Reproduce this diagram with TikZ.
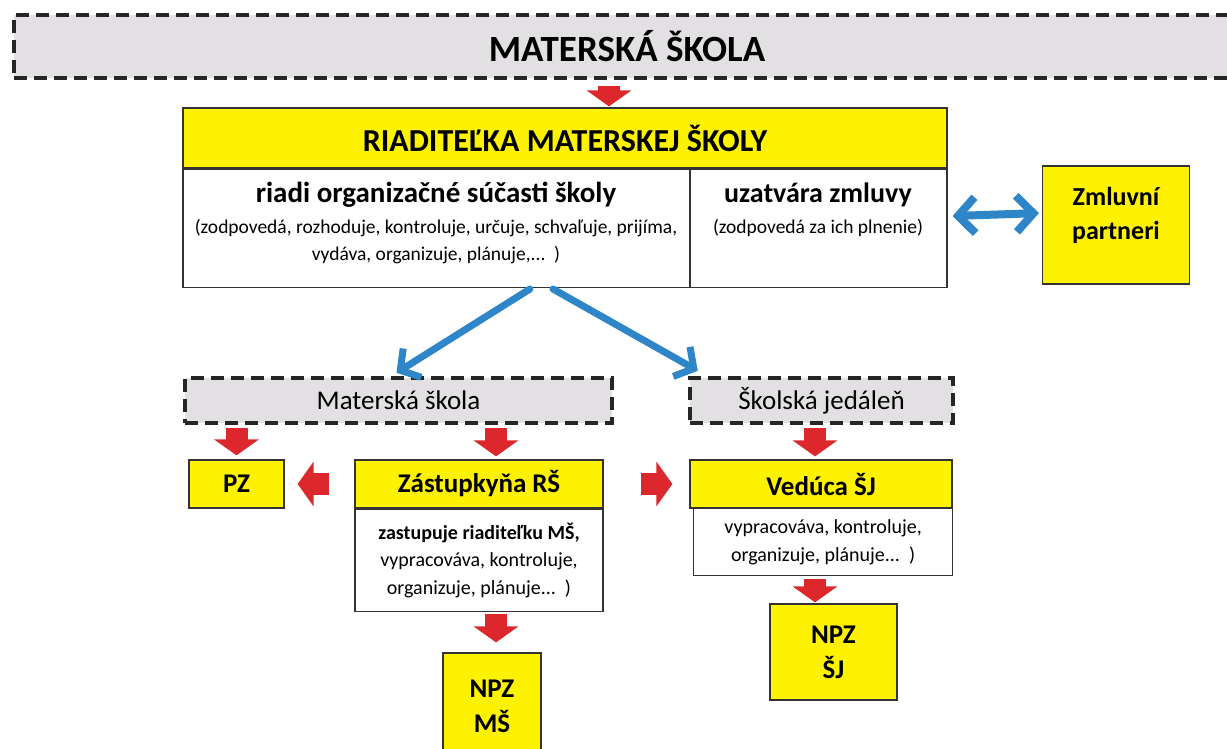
\documentclass[tikz,border=0pt]{standalone}
\usepackage{fontspec}
\setmainfont{Carlito}
\usetikzlibrary{arrows.meta,positioning,calc}
\definecolor{boxyellow}{RGB}{255,242,0}
\definecolor{arrred}{RGB}{220,40,45}
\definecolor{arrblue}{RGB}{46,134,200}
\definecolor{marble}{RGB}{226,224,226}

\begin{document}
\begin{tikzpicture}[x=1pt, y=-1pt,
	banner/.style={fill=marble, draw=black!85, line width=4pt, dash pattern=on 13pt off 7pt, inner sep=0pt},
	yellowbox/.style={fill=boxyellow, draw=black!80, line width=1.2pt, inner sep=0pt, align=center, font=\fontsize{27}{35}\selectfont\bfseries},
	whitebox/.style={fill=white, draw=black!80, line width=1.2pt, inner sep=0pt, align=center, font=\fontsize{20}{27.5}\selectfont},
	redarr/.style={arrred, line width=22pt, -{Triangle[width=44pt,length=16pt]}},
	bluearr/.style={arrblue, line width=7pt, line cap=round, line join=round, -{Straight Barb[length=14pt,width=34pt]}},
	bluedbl/.style={arrblue, line width=8pt, line cap=round, line join=round, {Straight Barb[length=17pt,width=36pt]}-{Straight Barb[length=17pt,width=36pt]}}]
	\path[use as bounding box, clip] (0,0) rectangle (1227,749);
	\fill[white] (0,0) rectangle (1227,749);
	\node[banner, minimum width=1226pt, minimum height=63pt, anchor=north west, font=\fontsize{37}{40}\selectfont\bfseries] (ms) at (12,13) {MATERSKÁ ŠKOLA};
	% riaditelka
	\node[yellowbox, minimum width=764pt, minimum height=60pt, font=\fontsize{32}{36}\selectfont\bfseries] (riad) at (565,138) {RIADITEĽKA MATERSKEJ ŠKOLY};
	\node[whitebox, minimum width=507pt, minimum height=118pt, anchor=north west] (org) at (riad.south west) {};
	\node[whitebox, minimum width=257pt, minimum height=118pt, anchor=north east] (zml) at (riad.south east) {};
	\node[font=\fontsize{29}{34}\selectfont\bfseries] (orgtitle) at (436,195) {riadi organizačné súčasti školy};
	\node[align=center, font=\fontsize{19.5}{27}\selectfont] (orgtext) at (436,242) {(zodpovedá, rozhoduje, kontroluje, určuje, schvaľuje, prijíma,\\vydáva, organizuje, plánuje,...\ \ )};
	\node[font=\fontsize{28}{34}\selectfont\bfseries] (zmltitle) at (818,195) {uzatvára zmluvy};
	\node[font=\fontsize{19.5}{27}\selectfont] (zmltext) at (818,228) {(zodpovedá za ich plnenie)};
	\node[yellowbox, minimum width=147pt, minimum height=118pt] (partner) at (1116,225) {};
	\node[align=center, font=\fontsize{26}{34}\selectfont\bfseries] (partnertext) at (1116,215) {Zmluvní\\partneri};
	% zlozky
	\node[banner, minimum width=427pt, minimum height=45pt, line width=4.5pt, font=\fontsize{27}{30}\selectfont] (msb) at (398.5,400.5) {Materská škola};
	\node[banner, minimum width=263pt, minimum height=45pt, line width=4.5pt, font=\fontsize{27}{30}\selectfont] (sjb) at (821.5,400.5) {Školská jedáleň};
	\node[yellowbox, minimum width=95pt, minimum height=48pt] (pz) at (236.5,484) {PZ};
	\node[yellowbox, minimum width=248pt, minimum height=48pt] (zast) at (479,484) {Zástupkyňa RŠ};
	\node[whitebox, minimum width=248pt, minimum height=102pt, anchor=north] (zasttext) at (zast.south) {{\bfseries zastupuje riaditeľku MŠ,}\\vypracováva, kontroluje,\\organizuje, plánuje...\ \ )};
	\node[yellowbox, minimum width=262pt, minimum height=48pt] (ved) at (821,484) {Vedúca ŠJ};
	\node[whitebox, minimum width=259pt, minimum height=67pt, anchor=north west] (vedtext) at (693,508) {vypracováva, kontroluje,\\organizuje, plánuje...\ \ )};
	\node[yellowbox, minimum width=127pt, minimum height=96pt] (npzsj) at (833.5,652) {NPZ\\ŠJ};
	\node[yellowbox, minimum width=98pt, minimum height=107pt] (npzms) at (492,706.5) {NPZ\\MŠ};
	% sipky
	\coordinate (topx) at (609,0);
	\coordinate (colms) at (496,0);
	\coordinate (colsj) at (815,0);
	\coordinate (fork1) at (530,289);
	\coordinate (fork2) at (553,289);
	\draw[redarr, shorten <=6pt, shorten >=1pt] (ms.south -| topx) -- (riad.north -| topx);
	\draw[redarr, shorten <=3pt, shorten >=4pt] (msb.south -| pz) -- (pz.north);
	\draw[redarr, shorten <=3pt, shorten >=3pt] (msb.south -| colms) -- (zast.north -| colms);
	\draw[redarr, shorten <=3pt, shorten >=3pt] (sjb.south -| colsj) -- (ved.north -| colsj);
	\draw[redarr, shorten <=25pt, shorten >=13pt] (zast.west) -- (pz.east);
	\draw[redarr, shorten <=37pt, shorten >=17pt] (zast.east) -- (ved.west);
	\draw[redarr, shorten <=2pt, shorten >=10pt] (zasttext.south -| colms) -- (npzms.north -| colms);
	\draw[redarr, shorten <=3pt, shorten >=1pt] (vedtext.south -| colsj) -- (npzsj.north -| colsj);
	\draw[bluearr] (fork1) -- ([xshift=-2pt,yshift=3pt]msb.north);
	\draw[bluearr] (fork2) -- ([xshift=10pt,yshift=5pt]sjb.north west);
	\draw[bluedbl, shorten <=5pt, shorten >=3pt] ([yshift=12pt]zml.east) -- ([yshift=12pt]partner.west);
\end{tikzpicture}
\end{document}
